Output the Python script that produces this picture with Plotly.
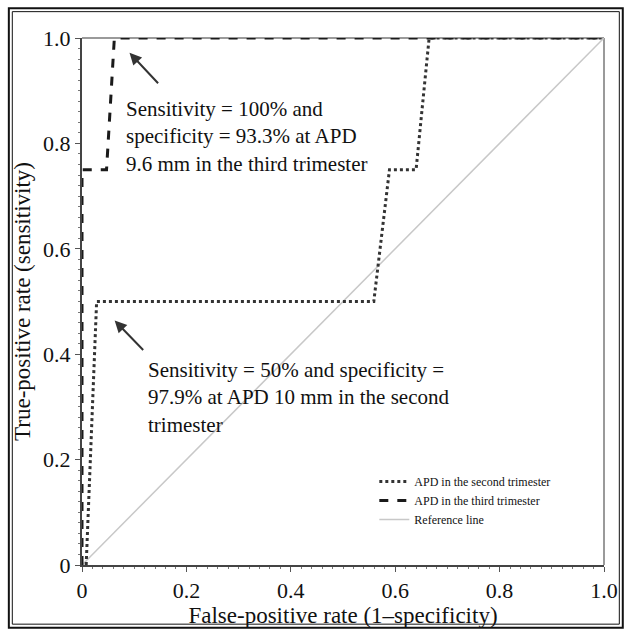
import plotly.graph_objects as go

# ROC points
second_fpr = [0.008, 0.028, 0.559, 0.589, 0.640, 0.665, 1.0]
second_tpr = [0.0, 0.5, 0.5, 0.75, 0.75, 1.0, 1.0]

third_fpr = [0.0, 0.0, 0.047, 0.062, 1.0]
third_tpr = [0.0, 0.75, 0.75, 1.0, 1.0]

ref_x = [0.0, 1.0]
ref_y = [0.0, 1.0]

tick_vals = [0, 0.2, 0.4, 0.6, 0.8, 1.0]
tick_text = ["0", "0.2", "0.4", "0.6", "0.8", "1.0"]

FONT = "Liberation Serif"


def px_x(v):
    return (v - 82) / 528


def px_y(v):
    return (568 - v) / 530


fig = go.Figure()
fig.add_trace(go.Scatter(
    x=ref_x, y=ref_y, mode="lines", name="Reference line",
    line=dict(color="#c8c8c8", width=1.5), legendrank=3,
))
fig.add_trace(go.Scatter(
    x=second_fpr, y=second_tpr, mode="lines", name="APD in the second trimester",
    line=dict(color="#333333", width=3, dash="dot"), legendrank=1,
))
fig.add_trace(go.Scatter(
    x=third_fpr, y=third_tpr, mode="lines", name="APD in the third trimester",
    line=dict(color="#1a1a1a", width=3, dash="dash"), legendrank=2,
))

axis_common = dict(
    range=[0, 1], tickvals=tick_vals, ticktext=tick_text,
    showgrid=False, zeroline=False, showline=True, linecolor="#444444", linewidth=2,
    ticks="outside", ticklen=5, tickcolor="#555555", tickwidth=1,
    minor=dict(dtick=0.02, ticks="outside", ticklen=2, tickcolor="#777777"),
    tickfont=dict(size=22, color="#111111", family=FONT),
)

fig.update_xaxes(
    **axis_common,
    title=dict(text="False-positive rate (1–specificity)", font=dict(size=23, color="#111111"), standoff=4),
)
fig.update_yaxes(
    **axis_common,
    title=dict(text="True-positive rate (sensitivity)", font=dict(size=23, color="#111111"), standoff=6),
)

shapes = [
    # grey frame top / right
    dict(type="line", xref="paper", yref="paper", x0=0, y0=1, x1=1, y1=1,
         line=dict(color="#9a9a9a", width=2), layer="below"),
    dict(type="line", xref="paper", yref="paper", x0=1, y0=0, x1=1, y1=1,
         line=dict(color="#9a9a9a", width=2), layer="below"),
    # double border round the figure
    dict(type="rect", xref="paper", yref="paper",
         x0=px_x(8), x1=px_x(629), y0=px_y(631), y1=px_y(8),
         line=dict(color="#111111", width=2)),
    dict(type="rect", xref="paper", yref="paper",
         x0=px_x(11.5), x1=px_x(625.5), y0=px_y(627.5), y1=px_y(11.5),
         line=dict(color="#111111", width=1)),
]

annotations = [
    dict(x=0.081, y=0.892, xref="x", yref="y", xanchor="left", yanchor="top", align="left",
         showarrow=False, font=dict(size=21, color="#111111"),
         text="Sensitivity = 100% and<br>specificity = 93.3% at APD<br>9.6 mm in the third trimester"),
    dict(x=0.122, y=0.396, xref="x", yref="y", xanchor="left", yanchor="top", align="left",
         showarrow=False, font=dict(size=21, color="#111111"),
         text="Sensitivity = 50% and specificity =<br>97.9% at APD 10 mm in the second<br>trimester"),
    dict(x=0.091, y=0.972, xref="x", yref="y", text="", showarrow=True,
         ax=30, ay=32, arrowhead=2, arrowsize=1.2, arrowwidth=2, arrowcolor="#333333"),
    dict(x=0.0625, y=0.464, xref="x", yref="y", text="", showarrow=True,
         ax=30, ay=31, arrowhead=2, arrowsize=1.2, arrowwidth=2, arrowcolor="#333333"),
]

fig.update_layout(
    width=630, height=636,
    margin=dict(l=82, r=20, t=38, b=68),
    paper_bgcolor="white", plot_bgcolor="white",
    font=dict(family=FONT, color="#111111"),
    shapes=shapes, annotations=annotations,
    legend=dict(x=0.56, y=0.186, xanchor="left", yanchor="top",
                font=dict(size=12, color="#111111"), bgcolor="rgba(0,0,0,0)",
                tracegroupgap=0),
    showlegend=True,
)

# drop the default page margin so the figure sits at the window's corner
fig.write_html(
    "out.html",
    config={"displayModeBar": False},
    post_script="document.body.style.margin='0';document.body.style.overflow='hidden';",
)
